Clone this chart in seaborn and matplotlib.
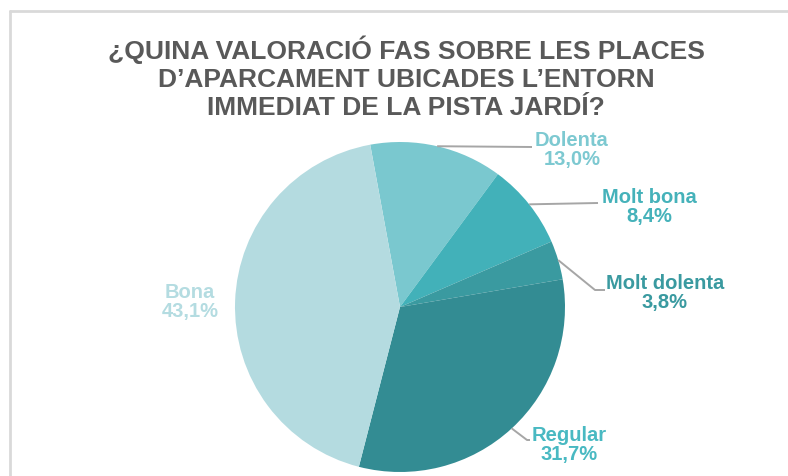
"""
Pie chart: valoració de les places d'aparcament a l'entorn de la pista Jardí
"""

import numpy as np
import matplotlib
matplotlib.use("Agg")
import matplotlib.pyplot as plt
from matplotlib.lines import Line2D
import seaborn as sns

# data (clockwise from the top)
categories = ["Dolenta", "Molt bona", "Molt dolenta", "Regular", "Bona"]
values = [13.0, 8.4, 3.8, 31.7, 43.1]
slice_colors = ["#7AC8CF", "#42B1B9", "#3A9AA0", "#338C93", "#B4DBE0"]
label_colors = ["#7DC9D1", "#45B2BA", "#3A9AA0", "#49B9C2", "#B4DCE1"]

title = ("¿QUINA VALORACIÓ FAS SOBRE LES PLACES\n"
         "D’APARCAMENT UBICADES L’ENTORN\n"
         "IMMEDIAT DE LA PISTA JARDÍ?")

sns.set_theme(style="white")
plt.rcParams["font.family"] = ["Liberation Sans", "DejaVu Sans"]

W, H = 788, 476
CX, CY, R = 400, 307, 165  # pie centre and radius in pixels


def px(x, y):
    """pixel position -> data coords (pie radius = 1)"""
    return (x - CX) / R, (CY - y) / R


fig = plt.figure(figsize=(W / 100, H / 100), dpi=100)
ax = fig.add_axes([0, 0, 1, 1])

# first wedge starts 10.4 deg left of the top
wedges, _ = ax.pie(values, colors=slice_colors, startangle=100.4,
                   counterclock=False, radius=1.0,
                   wedgeprops=dict(linewidth=0))

# pie() resets the limits, so set them afterwards
ax.set_xlim(-CX / R, (W - CX) / R)
ax.set_ylim(-(H - CY) / R, CY / R)
ax.set_aspect("auto")
ax.axis("off")

# label layout: text centre (px), line end (px), elbow x (px) or None
layout = {
    "Dolenta": ((572, 150), (532, 147), None),
    "Molt bona": ((649, 207), (598, 203), None),
    "Molt dolenta": ((665, 293), (605, 290), 595),
    "Regular": ((569, 445), (530, 440), 527),
    "Bona": ((190, 302), None, None),
}

for w, cat, val, col in zip(wedges, categories, values, label_colors):
    txt_pos, line_end, elbow = layout[cat]
    label = f"{cat}\n{val:.1f}%".replace(".", ",")
    tx, ty = px(*txt_pos)
    ax.text(tx, ty, label, ha="center", va="center", color=col,
            fontsize=14.5, fontweight="bold", linespacing=1.0)
    if line_end is None:
        continue
    mid = np.deg2rad((w.theta1 + w.theta2) / 2)
    x0, y0 = np.cos(mid), np.sin(mid)
    ex, ey = px(*line_end)
    xs, ys = [x0], [y0]
    if elbow is not None:
        bx, _ = px(elbow, line_end[1])
        xs.append(bx)
        ys.append(ey)
    xs.append(ex)
    ys.append(ey)
    ax.plot(xs, ys, color="#A6A6A6", lw=1.4, solid_capstyle="butt")

fig.text(406 / W, 1 - 78 / H, title, ha="center", va="center",
         fontsize=19, fontweight="bold", color="#595959", linespacing=1.2)

# chart frame (top and left edges visible)
fig.add_artist(Line2D([10 / W, 1], [1 - 11 / H, 1 - 11 / H],
                      color="#D9D9D9", lw=2, transform=fig.transFigure))
fig.add_artist(Line2D([10 / W, 10 / W], [0, 1 - 11 / H],
                      color="#D9D9D9", lw=2, transform=fig.transFigure))

fig.savefig("out.png", dpi=100)
